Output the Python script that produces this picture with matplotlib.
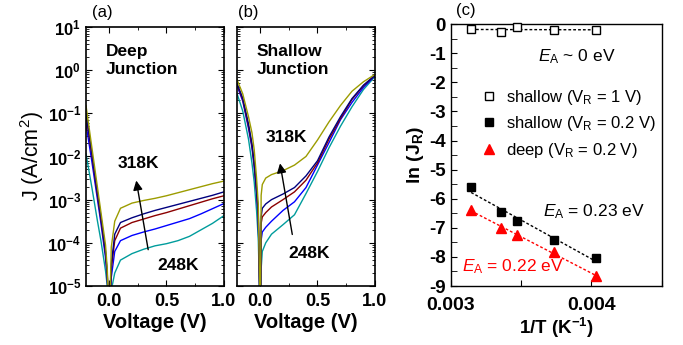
import numpy as np
import matplotlib.pyplot as plt
from matplotlib.ticker import MultipleLocator, LogLocator, NullFormatter

plt.rcParams['font.family'] = ['Liberation Sans', 'DejaVu Sans']
plt.rcParams['font.weight'] = 'bold'
plt.rcParams['axes.labelweight'] = 'bold'
plt.rcParams['axes.unicode_minus'] = False
plt.rcParams['mathtext.fontset'] = 'custom'
plt.rcParams['mathtext.rm'] = 'Liberation Sans'
plt.rcParams['mathtext.it'] = 'Liberation Sans:style=italic:weight=normal'
plt.rcParams['mathtext.bf'] = 'Liberation Sans:bold'
plt.rcParams['mathtext.default'] = 'regular'

# ---- data ----
# J-V curves: shared voltage grid, log10(J) in A/cm^2 for each temperature
voltage = [-0.2, -0.15, -0.1, -0.07, -0.05, -0.03, -0.015, 0.003, 0.01, 0.02,
           0.05, 0.1, 0.2, 0.3, 0.4, 0.5, 0.6, 0.7, 0.8, 0.9, 1.0]
temps = ['248K', '268K', '288K', '298K', '318K']
colors = ['#009c9c', '#0000ff', '#8b0000', '#00007f', '#9c9c00']

# (a) deep junction
deep_248 = [-1.94, -2.7, -3.5, -3.95, -4.3, -4.65, -5.0, -6.0, -5.6, -5.1,
            -4.7, -4.4, -4.25, -4.15, -4.07, -4.02, -3.95, -3.85, -3.7, -3.55, -3.37]
deep_268 = [-1.25, -2.1, -3.0, -3.55, -3.95, -4.35, -4.8, -6.0, -5.4, -4.8,
            -4.2, -3.95, -3.83, -3.75, -3.68, -3.6, -3.52, -3.44, -3.33, -3.21, -3.09]
deep_288 = [-1.05, -1.95, -2.9, -3.45, -3.85, -4.25, -4.75, -6.0, -5.3, -4.6,
            -3.95, -3.66, -3.53, -3.45, -3.37, -3.3, -3.22, -3.14, -3.06, -2.98, -2.91]
deep_298 = [-1.0, -1.9, -2.85, -3.4, -3.8, -4.2, -4.7, -6.0, -5.3, -4.5,
            -3.8, -3.53, -3.42, -3.33, -3.25, -3.18, -3.11, -3.04, -2.97, -2.9, -2.82]
deep_318 = [-0.82, -1.77, -2.72, -3.29, -3.67, -4.05, -4.6, -6.0, -5.2, -4.1,
            -3.5, -3.2, -3.08, -3.02, -2.97, -2.91, -2.84, -2.77, -2.7, -2.63, -2.57]

# (b) shallow junction
shallow_248 = [-0.54, -0.95, -1.6, -2.15, -2.6, -3.25, -3.9, -6.0, -4.6, -4.2,
               -4.0, -3.8, -3.58, -3.35, -2.86, -2.35, -1.8, -1.3, -0.85, -0.45, -0.15]
shallow_268 = [-0.36, -0.72, -1.35, -1.8, -2.25, -2.85, -3.45, -6.0, -3.94, -3.75,
               -3.64, -3.5, -3.25, -3.05, -2.72, -2.2, -1.68, -1.15, -0.75, -0.4, -0.13]
shallow_288 = [-0.33, -0.68, -1.3, -1.75, -2.2, -2.8, -3.35, -6.0, -3.55, -3.4,
               -3.3, -3.17, -3.0, -2.82, -2.55, -2.15, -1.6, -1.12, -0.68, -0.36, -0.12]
shallow_298 = [-0.31, -0.65, -1.25, -1.7, -2.15, -2.75, -3.3, -6.0, -3.4, -3.2,
               -3.1, -3.0, -2.87, -2.72, -2.45, -2.1, -1.55, -1.08, -0.66, -0.35, -0.12]
shallow_318 = [-0.22, -0.55, -1.08, -1.45, -1.85, -2.5, -3.1, -6.0, -2.9, -2.65,
               -2.5, -2.42, -2.33, -2.2, -2.0, -1.62, -1.2, -0.82, -0.49, -0.27, -0.1]

# (c) Arrhenius plot
temps_c = [318, 298, 288, 268, 248]
ln_shallow_1V = [-0.17, -0.27, -0.1, -0.2, -0.2]
ln_shallow_02V = [-5.6, -6.47, -6.77, -7.42, -8.04]
ln_deep_02V = [-6.39, -7.0, -7.25, -7.83, -8.66]

fig = plt.figure(figsize=(6.83, 3.45), dpi=100)
ax_a = fig.add_axes([0.1259, 0.171, 0.202, 0.751])
ax_b = fig.add_axes([0.347, 0.171, 0.202, 0.751])
ax_c = fig.add_axes([0.660, 0.171, 0.309, 0.759])

panels = [
    (ax_a, [deep_248, deep_268, deep_288, deep_298, deep_318], 'Deep\nJunction'),
    (ax_b, [shallow_248, shallow_268, shallow_288, shallow_298, shallow_318], 'Shallow\nJunction'),
]
for ax, curves, title in panels:
    for logJ, c in zip(curves, colors):
        ax.plot(voltage, 10.0 ** np.asarray(logJ), color=c, lw=1)
    ax.set_yscale('log')
    ax.set_ylim(1e-5, 10)
    ax.set_xlim(-0.2, 1.0)
    ax.xaxis.set_major_locator(MultipleLocator(0.5))
    ax.xaxis.set_minor_locator(MultipleLocator(0.25))
    ax.yaxis.set_major_locator(LogLocator(base=10, numticks=10))
    ax.yaxis.set_minor_locator(LogLocator(base=10, subs=np.arange(2, 10), numticks=20))
    ax.yaxis.set_minor_formatter(NullFormatter())
    ax.tick_params(which='both', direction='in', top=True, right=True)
    ax.tick_params(which='major', length=4)
    ax.tick_params(axis='y', labelsize=12)
    ax.tick_params(axis='x', labelsize=13, pad=5)
    ax.tick_params(which='minor', length=2.5)
    ax.set_xlabel('Voltage (V)', fontsize=14.5, labelpad=2)
    ax.text(-0.03, 4.0, title, fontsize=12.5, va='top', ha='left', linespacing=1.25)
    for s in ax.spines.values():
        s.set_linewidth(1.2)

ax_b.tick_params(labelleft=False)
ax_a.set_ylabel('J (A/cm$^2$)', fontsize=15.5, fontweight='normal', labelpad=1)

# arrows and temperature labels
ax_a.annotate('', xy=(0.233, 3.2e-3), xytext=(0.345, 6e-5),
              arrowprops=dict(arrowstyle='-|>', color='black', lw=1, mutation_scale=14))
ax_a.text(0.26, 6.8e-3, '318K', fontsize=12.5, ha='center', va='center')
ax_a.text(0.6, 3e-5, '248K', fontsize=12.5, ha='center', va='center')
ax_b.annotate('', xy=(0.17, 8e-3), xytext=(0.285, 1.35e-4),
              arrowprops=dict(arrowstyle='-|>', color='black', lw=1, mutation_scale=14))
ax_b.text(0.23, 2.7e-2, '318K', fontsize=12.5, ha='center', va='center')
ax_b.text(0.43, 5.8e-5, '248K', fontsize=12.5, ha='center', va='center')

# panel (c)
inv_t = 1.0 / np.array(temps_c)
xs = np.array([inv_t.min(), inv_t.max()])
for y, c in ((ln_shallow_1V, 'black'), (ln_shallow_02V, 'black'), (ln_deep_02V, 'red')):
    p = np.polyfit(inv_t, y, 1)
    ax_c.plot(xs, np.polyval(p, xs), ls=(0, (2, 1.5)), color=c, lw=1, zorder=2)

ax_c.plot(inv_t, ln_shallow_1V, 's', ms=6, mfc='white', mec='black', mew=1, zorder=3,
          clip_on=False, label='shallow (V$_R$ = 1 V)')
ax_c.plot(inv_t, ln_shallow_02V, 's', ms=6, color='black', zorder=3,
          label='shallow (V$_R$ = 0.2 V)')
ax_c.plot(inv_t, ln_deep_02V, '^', ms=7, color='red', zorder=3, clip_on=False,
          label='deep (V$_R$ = 0.2 V)')

ax_c.set_xlim(0.003, 0.0045)
ax_c.set_ylim(-9, 0)
ax_c.set_xticks([0.003, 0.0035, 0.004, 0.0045], ['0.003', '', '0.004', ''])
ax_c.yaxis.set_major_locator(MultipleLocator(1))
ax_c.yaxis.set_minor_locator(MultipleLocator(0.5))
ax_c.tick_params(which='both', direction='in', length=4)
ax_c.tick_params(axis='y', labelsize=13.5)
ax_c.tick_params(axis='x', labelsize=14, pad=8)
ax_c.set_xlabel('1/T (K$^{-1}$)', fontsize=13.5, labelpad=1)
ax_c.set_ylabel('ln (J$_R$)', fontsize=14, labelpad=2)
for s in ax_c.spines.values():
    s.set_linewidth(1.0)

ax_c.legend(loc='upper left', bbox_to_anchor=(0.14, 0.758), frameon=False,
            prop={'size': 12, 'weight': 'normal'}, handletextpad=0.55,
            labelspacing=0.45, handlelength=1.0, borderpad=0, borderaxespad=0)

ea_kw = dict(fontsize=12.5, fontweight='normal', va='center')
ax_c.text(0.00362, -1.1, r'$\mathit{E}_A$ ~ 0 eV', **ea_kw)
ax_c.text(0.003657, -6.45, r'$\mathit{E}_A$ = 0.23 eV', **ea_kw)
ax_c.text(0.003079, -8.35, r'$\mathit{E}_A$ = 0.22 eV', color='red', **ea_kw)

fig.text(102 / 683, 1 - 12 / 345, '(a)', fontsize=12, fontweight='normal', ha='center', va='center')
fig.text(248 / 683, 1 - 12 / 345, '(b)', fontsize=12, fontweight='normal', ha='center', va='center')
fig.text(466 / 683, 1 - 10 / 345, '(c)', fontsize=12, fontweight='normal', ha='center', va='center')

fig.savefig('out.png', dpi=100)
